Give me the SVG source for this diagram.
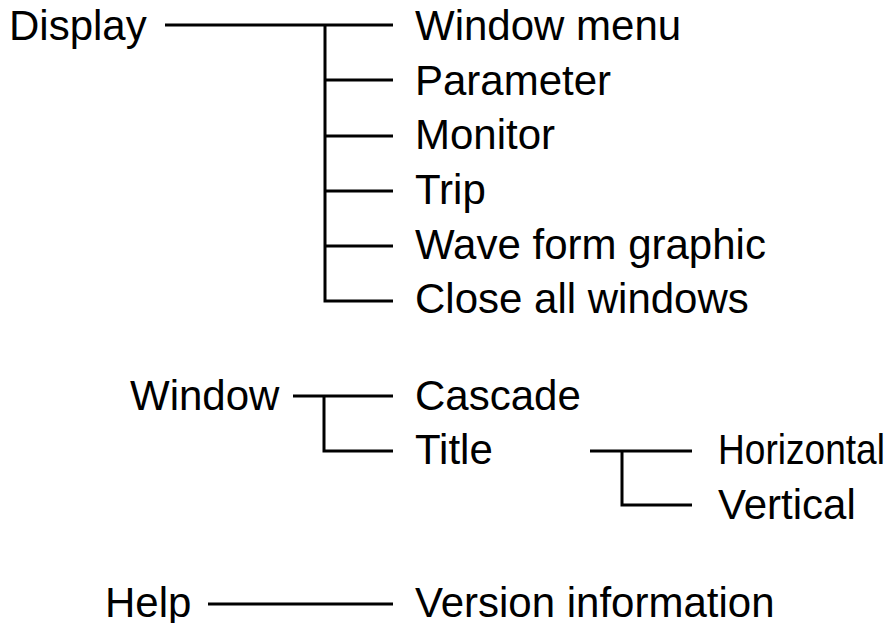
<svg xmlns="http://www.w3.org/2000/svg" width="890" height="623" viewBox="0 0 890 623">
<style>
text{font-family:"Liberation Sans",Arial,sans-serif;font-size:42px;fill:#000}
.c{fill:none;stroke:#000;stroke-width:3;stroke-linecap:butt;stroke-linejoin:miter}
</style>
<rect width="890" height="623" fill="#fff"/>
<g id="connectors">
<path class="c" d="M165 25H393M325 25V301H393M325 80H393M325 136H393M325 191H393M325 246H393"/>
<path class="c" d="M293 396H393M324 396V451H393"/>
<path class="c" d="M590 451H692M622 451V505H692"/>
<path class="c" d="M208 604H393"/>
</g>
<g id="display"><text x="9" y="40">Display</text></g>
<g id="window-menu"><text x="415" y="40">Window menu</text></g>
<g id="parameter"><text x="415" y="94.5">Parameter</text></g>
<g id="monitor"><text x="415" y="149">Monitor</text></g>
<g id="trip"><text x="415" y="204">Trip</text></g>
<g id="wave-form"><text x="415" y="258.5">Wave form graphic</text></g>
<g id="close-all"><text x="415" y="313">Close all windows</text></g>
<g id="window"><text x="130" y="410">Window</text></g>
<g id="cascade"><text x="415" y="410">Cascade</text></g>
<g id="title"><text x="415" y="464">Title</text></g>
<g id="horizontal"><text x="718" y="464" textLength="167" lengthAdjust="spacingAndGlyphs">Horizontal</text></g>
<g id="vertical"><text x="718" y="519">Vertical</text></g>
<g id="help"><text x="105" y="617">Help</text></g>
<g id="version"><text x="415" y="617">Version information</text></g>
</svg>
